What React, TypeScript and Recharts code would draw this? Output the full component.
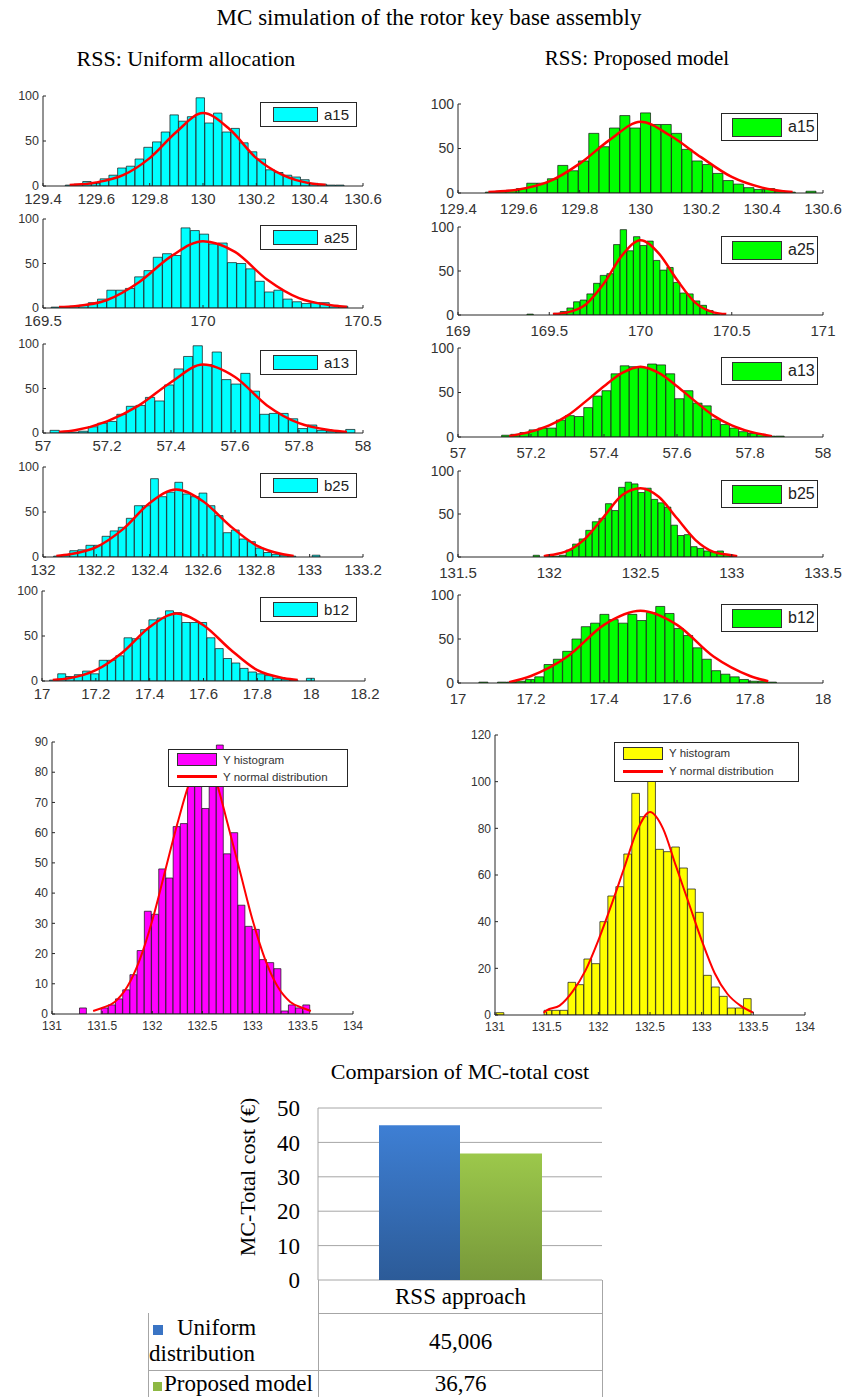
import React from 'react';
import { ComposedChart, BarChart, Bar, Line, XAxis, YAxis, CartesianGrid } from 'recharts';

const SERIF = '"Liberation Serif", "Times New Roman", serif';
const SANS = '"Liberation Sans", Arial, sans-serif';

type Curve = [number, number][];

// ---- tick labels ----
const a15Ticks = [129.4, 129.6, 129.8, 130, 130.2, 130.4, 130.6];
const a25uTicks = [169.5, 170, 170.5];
const a25pTicks = [169, 169.5, 170, 170.5, 171];
const a13Ticks = [57, 57.2, 57.4, 57.6, 57.8, 58];
const b25uTicks = [132, 132.2, 132.4, 132.6, 132.8, 133, 133.2];
const b25pTicks = [131.5, 132, 132.5, 133, 133.5];
const b12uTicks = [17, 17.2, 17.4, 17.6, 17.8, 18, 18.2];
const b12pTicks = [17, 17.2, 17.4, 17.6, 17.8, 18];
const yTicks = [131, 131.5, 132, 132.5, 133, 133.5, 134];
const smallCountTicks = [0, 50, 100];

// ---- RSS: uniform allocation (counts per bin, fitted normal curve) ----
const a15uCounts = [1, 2, 5, 3, 8, 12, 20, 22, 30, 43, 49, 60, 79, 72, 77, 98, 70, 81, 60, 64, 48, 38, 30, 18, 15, 12, 10, 7, 3, 2, 1, 1];
const a15uFit: Curve = [[129.5, 1], [129.6, 4], [129.7, 12], [129.8, 31], [129.9, 60], [130.0, 81], [130.1, 63], [130.2, 31], [130.3, 12], [130.4, 3], [130.46, 1]];
const a25uCounts = [1, 1, 2, 3, 6, 10, 20, 20, 22, 35, 42, 57, 61, 59, 90, 87, 83, 72, 73, 51, 50, 44, 30, 18, 20, 10, 7, 5, 6, 6, 3, 2];
const a25uFit: Curve = [[169.55, 1], [169.6, 2], [169.7, 9], [169.8, 29], [169.9, 58], [170.0, 75], [170.1, 63], [170.2, 32], [170.3, 11], [170.4, 3], [170.45, 1]];
const a13uCounts = [3, 1, 1, 2, 7, 11, 13, 21, 30, 31, 40, 36, 54, 72, 86, 98, 77, 91, 60, 55, 67, 47, 21, 22, 22, 16, 5, 9, 3, 2, 1, 4];
const a13uFit: Curve = [[57.05, 1], [57.1, 3], [57.2, 13], [57.3, 31], [57.4, 57], [57.5, 77], [57.6, 63], [57.7, 31], [57.8, 11], [57.9, 3], [57.95, 1]];
const b25uCounts = [1, 2, 7, 8, 13, 13, 23, 29, 33, 43, 57, 57, 87, 67, 72, 83, 70, 67, 71, 57, 46, 27, 30, 20, 17, 10, 5, 3, 2, 1, 0, 0, 2];
const b25uFit: Curve = [[132.05, 1], [132.1, 3], [132.2, 11], [132.3, 31], [132.4, 60], [132.5, 75], [132.6, 62], [132.7, 35], [132.8, 13], [132.9, 3], [132.94, 1]];
const b12uCounts = [1, 8, 5, 7, 11, 8, 23, 23, 28, 48, 47, 57, 68, 70, 78, 76, 65, 65, 65, 48, 36, 25, 20, 14, 10, 8, 6, 3, 2, 1, 0, 3];
const b12uFit: Curve = [[17.04, 1], [17.1, 3], [17.2, 12], [17.3, 32], [17.4, 60], [17.5, 75], [17.6, 62], [17.7, 35], [17.8, 12], [17.9, 3], [17.95, 1]];

// ---- RSS: proposed model ----
const a15pCounts = [1, 2, 3, 5, 11, 11, 16, 31, 25, 36, 67, 52, 73, 87, 73, 90, 77, 77, 67, 49, 36, 32, 22, 14, 10, 6, 4, 5, 2, 1, 0, 2];
const a15pFit: Curve = [[129.5, 1], [129.6, 4], [129.7, 13], [129.8, 33], [129.9, 60], [130.0, 80], [130.1, 64], [130.2, 40], [130.3, 18], [130.4, 6], [130.5, 1]];
const a25pCounts = [1, 0, 0, 0, 2, 4, 8, 15, 17, 24, 36, 45, 47, 80, 97, 73, 89, 79, 84, 62, 51, 54, 37, 25, 24, 16, 11, 5, 1];
const a25pFit: Curve = [[169.52, 1], [169.6, 3], [169.7, 12], [169.8, 36], [169.9, 68], [170.0, 85], [170.1, 70], [170.2, 40], [170.3, 14], [170.4, 3], [170.47, 1]];
const a13pCounts = [2, 3, 5, 8, 10, 10, 19, 24, 23, 33, 46, 52, 71, 80, 79, 78, 82, 81, 71, 43, 52, 38, 35, 20, 14, 10, 6, 4, 3, 1, 1];
const a13pFit: Curve = [[57.14, 1], [57.2, 6], [57.25, 13], [57.3, 24], [57.35, 40], [57.4, 57], [57.45, 72], [57.5, 79], [57.55, 72], [57.6, 57], [57.65, 40], [57.7, 24], [57.75, 13], [57.8, 6], [57.86, 1]];
const b25pCounts = [2, 0, 1, 1, 2, 8, 15, 21, 31, 41, 45, 62, 54, 81, 87, 85, 75, 80, 67, 63, 58, 37, 25, 26, 12, 10, 7, 6, 7, 3, 1];
const b25pFit: Curve = [[131.97, 1], [132.0, 2], [132.1, 7], [132.2, 22], [132.3, 47], [132.4, 72], [132.5, 80], [132.6, 70], [132.7, 45], [132.8, 20], [132.9, 6], [133.0, 2], [133.03, 1]];
const b12pCounts = [1, 0, 1, 1, 2, 4, 7, 21, 27, 36, 50, 64, 68, 78, 72, 68, 78, 71, 80, 87, 79, 62, 54, 40, 27, 14, 10, 7, 4, 2, 2, 1];
const b12pFit: Curve = [[17.14, 1], [17.2, 8], [17.3, 30], [17.4, 66], [17.5, 82], [17.6, 66], [17.7, 30], [17.8, 8], [17.85, 2]];

// ---- Y histograms ----
const yUniformCounts = [2, 0, 0, 2, 3, 5, 8, 13, 21, 34, 33, 48, 45, 62, 63, 78, 80, 68, 76, 89, 53, 60, 36, 29, 28, 18, 17, 15, 1, 3, 2, 3];
const yUniformFit: Curve = [[131.41, 1], [131.5, 2], [131.625, 4], [131.75, 9], [131.875, 18], [132.0, 31], [132.125, 47], [132.25, 63], [132.375, 77], [132.5, 84], [132.625, 78], [132.75, 63], [132.875, 47], [133.0, 31], [133.125, 18], [133.25, 9], [133.375, 4], [133.5, 2], [133.58, 1]];
const yProposedCounts = [1, 0, 0, 0, 0, 0, 2, 2, 2, 14, 13, 24, 22, 40, 51, 55, 69, 95, 85, 101, 71, 70, 72, 63, 54, 44, 17, 12, 8, 3, 3, 7];
const yProposedFit: Curve = [[131.47, 1], [131.5, 2], [131.625, 4], [131.75, 10], [131.875, 19], [132.0, 32], [132.125, 47], [132.25, 63], [132.375, 79], [132.5, 87], [132.625, 80], [132.75, 64], [132.875, 48], [133.0, 32], [133.125, 18], [133.25, 9], [133.375, 4], [133.5, 1]];

// ---- total cost comparison ----
const costCategories = ['RSS approach'];
const costUniform = [45.006];
const costProposed = [36.76];
const costTicks = [0, 10, 20, 30, 40, 50];

const AXIS = '#262626';

interface PanelProps {
  left: number; top: number; w: number; h: number;
  xDomain: [number, number]; xTicks: number[];
  yMax: number; yTicks: number[];
  start: number; step: number; counts: number[];
  fit: Curve; fill: string;
  xFont: number; yFont: number; lineW: number; xGap?: number;
}

function Panel(p: PanelProps) {
  const axisW = 44, padT = 10, padR = 30, axisH = 28;
  const cw = axisW + p.w + padR;
  const ch = padT + p.h + axisH;
  const rows = p.counts.map((n, i) => ({ x: p.start + i * p.step, n }));
  const fit = p.fit.map(([x, y]) => ({ x, y }));
  const barPx = Math.max(1, (p.step / (p.xDomain[1] - p.xDomain[0])) * p.w - 0.3);
  return (
    <div style={{ position: 'absolute', left: p.left - axisW, top: p.top - padT, width: cw, height: ch }}>
      <ComposedChart width={cw} height={ch} data={rows} margin={{ top: padT, right: padR, bottom: 0, left: 0 }}>
        <XAxis xAxisId="bins" dataKey="x" type="number" domain={p.xDomain} allowDataOverflow ticks={p.xTicks} interval={0}
          height={axisH} stroke={AXIS} tickSize={-3} tickMargin={p.xGap ?? 10} tick={{ fill: '#333', fontSize: p.xFont, fontFamily: SANS }} />
        <XAxis xAxisId="fit" dataKey="x" type="number" domain={p.xDomain} allowDataOverflow hide />
        <XAxis xAxisId="top" orientation="top" type="number" domain={p.xDomain} allowDataOverflow ticks={p.xTicks}
          height={0} tick={false} stroke={AXIS} tickSize={-3} />
        <YAxis yAxisId="l" type="number" domain={[0, p.yMax]} allowDataOverflow ticks={p.yTicks} interval={0} width={axisW}
          stroke={AXIS} tickSize={-3} tickMargin={7} tick={{ fill: '#333', fontSize: p.yFont, fontFamily: SANS }} />
        <YAxis yAxisId="r" orientation="right" type="number" domain={[0, p.yMax]} allowDataOverflow ticks={p.yTicks}
          width={0} tick={false} stroke={AXIS} tickSize={-3} />
        <Bar xAxisId="bins" yAxisId="l" dataKey="n" fill={p.fill} stroke="#111" strokeWidth={0.7} barSize={barPx} isAnimationActive={false} />
        <Line xAxisId="fit" yAxisId="l" data={fit} dataKey="y" type="monotone" stroke="#ff0000" strokeWidth={p.lineW}
          dot={false} activeDot={false} isAnimationActive={false} />
      </ComposedChart>
    </div>
  );
}

function SmallKey({ x, y, w, h, name, fill, patchW, patchH, inset, font }: {
  x: number; y: number; w: number; h: number; name: string; fill: string; patchW: number; patchH: number; inset: number; font: number;
}) {
  return (
    <div style={{ position: 'absolute', left: x, top: y, width: w, height: h, boxSizing: 'border-box', border: `1px solid ${AXIS}`,
      background: '#fff', display: 'flex', alignItems: 'center', fontFamily: SANS, fontSize: font, color: '#222' }}>
      <span style={{ display: 'inline-block', width: patchW, height: patchH, background: fill, border: '1px solid #333',
        boxSizing: 'border-box', marginLeft: inset, marginRight: 6 }} />
      {name}
    </div>
  );
}

function YKey({ x, y, w, h, fill }: { x: number; y: number; w: number; h: number; fill: string }) {
  const row: React.CSSProperties = { display: 'flex', alignItems: 'center', height: (h - 4) / 2 };
  return (
    <div style={{ position: 'absolute', left: x, top: y, width: w, height: h, boxSizing: 'border-box', border: `1px solid ${AXIS}`,
      background: '#fff', fontFamily: SANS, fontSize: 11.5, color: '#333', paddingTop: 1 }}>
      <div style={row}>
        <span style={{ display: 'inline-block', width: 40, height: 13, background: fill, border: '1px solid #333', boxSizing: 'border-box', marginLeft: 8, marginRight: 6 }} />
        Y histogram
      </div>
      <div style={row}>
        <span style={{ display: 'inline-block', width: 40, height: 3, background: '#ff0000', marginLeft: 8, marginRight: 6 }} />
        Y normal distribution
      </div>
    </div>
  );
}

const L = { left: 43, w: 320 };
const R = { left: 458, w: 365, xGap: 13 };

export default function App() {
  const costRows = costCategories.map((name, i) => ({ name, uniform: costUniform[i], proposed: costProposed[i] }));
  const fmt = (v: number) => String(v).replace('.', ',');
  const leftKey = (top: number, name: string) => (
    <SmallKey x={L.left + L.w - 6 - 97} y={top + 6} w={97} h={25} name={name} fill="#00ffff" patchW={45} patchH={15} inset={12} font={15} />
  );
  const rightKey = (top: number, name: string) => (
    <SmallKey x={R.left + R.w - 5 - 97} y={top + 9} w={97} h={28} name={name} fill="#00ff00" patchW={50} patchH={19} inset={10} font={16} />
  );
  const cell: React.CSSProperties = { position: 'absolute', boxSizing: 'border-box', borderColor: '#a6a6a6', borderStyle: 'solid', borderWidth: 0 };

  return (
    <div style={{ position: 'absolute', left: 0, top: 0, width: 858, height: 1397, overflow: 'hidden', background: '#fff', fontFamily: SERIF }}>
      <div style={{ position: 'absolute', left: 0, top: 5, width: 858, textAlign: 'center', fontSize: 23 }}>MC simulation of the rotor key base assembly</div>
      <div style={{ position: 'absolute', left: 36, top: 46, width: 300, textAlign: 'center', fontSize: 22 }}>RSS: Uniform allocation</div>
      <div style={{ position: 'absolute', left: 487, top: 46, width: 300, textAlign: 'center', fontSize: 21 }}>RSS: Proposed model</div>

      {/* uniform allocation column */}
      <Panel {...L} top={96} h={90} xDomain={[129.4, 130.6]} xTicks={a15Ticks} yMax={100} yTicks={smallCountTicks}
        start={129.5} step={0.0327} counts={a15uCounts} fit={a15uFit} fill="#00ffff" xFont={15} yFont={12.5} lineW={2.5} />
      <Panel {...L} top={219} h={89} xDomain={[169.5, 170.5]} xTicks={a25uTicks} yMax={100} yTicks={smallCountTicks}
        start={169.54} step={0.029} counts={a25uCounts} fit={a25uFit} fill="#00ffff" xFont={15} yFont={12.5} lineW={2.5} />
      <Panel {...L} top={344} h={89} xDomain={[57, 58]} xTicks={a13Ticks} yMax={100} yTicks={smallCountTicks}
        start={57.037} step={0.0298} counts={a13uCounts} fit={a13uFit} fill="#00ffff" xFont={15} yFont={12.5} lineW={2.5} />
      <Panel {...L} top={467} h={90} xDomain={[132, 133.2]} xTicks={b25uTicks} yMax={100} yTicks={smallCountTicks}
        start={132.055} step={0.0303} counts={b25uCounts} fit={b25uFit} fill="#00ffff" xFont={15} yFont={12.5} lineW={2.5} />
      <Panel left={42} w={323} top={591} h={90} xDomain={[17, 18.2]} xTicks={b12uTicks} yMax={100} yTicks={smallCountTicks}
        start={17.043} step={0.0308} counts={b12uCounts} fit={b12uFit} fill="#00ffff" xFont={15} yFont={12.5} lineW={2.5} />

      {/* proposed model column */}
      <Panel {...R} top={104} h={89} xDomain={[129.4, 130.6]} xTicks={a15Ticks} yMax={100} yTicks={smallCountTicks}
        start={129.507} step={0.034} counts={a15pCounts} fit={a15pFit} fill="#00ff00" xFont={15} yFont={14} lineW={2.5} />
      <Panel {...R} top={227} h={88} xDomain={[169, 171]} xTicks={a25pTicks} yMax={100} yTicks={smallCountTicks}
        start={169.396} step={0.0365} counts={a25pCounts} fit={a25pFit} fill="#00ff00" xFont={15} yFont={14} lineW={2.5} />
      <Panel {...R} top={348} h={89} xDomain={[57, 58]} xTicks={a13Ticks} yMax={100} yTicks={smallCountTicks}
        start={57.132} step={0.025} counts={a13pCounts} fit={a13pFit} fill="#00ff00" xFont={15} yFont={14} lineW={2.5} />
      <Panel {...R} top={471} h={86} xDomain={[131.5, 133.5]} xTicks={b25pTicks} yMax={100} yTicks={smallCountTicks}
        start={131.93} step={0.036} counts={b25pCounts} fit={b25pFit} fill="#00ff00" xFont={15} yFont={14} lineW={2.5} />
      <Panel {...R} top={595} h={88} xDomain={[17, 18]} xTicks={b12pTicks} yMax={100} yTicks={smallCountTicks}
        start={17.07} step={0.0255} counts={b12pCounts} fit={b12pFit} fill="#00ff00" xFont={15} yFont={14} lineW={2.5} />

      {leftKey(96, 'a15')}
      {leftKey(219, 'a25')}
      {leftKey(344, 'a13')}
      {leftKey(467, 'b25')}
      {leftKey(591, 'b12')}
      {rightKey(104, 'a15')}
      {rightKey(227, 'a25')}
      {rightKey(348, 'a13')}
      {rightKey(471, 'b25')}
      {rightKey(595, 'b12')}

      {/* Y histograms */}
      <Panel left={52} w={301} top={742} h={272} xDomain={[131, 134]} xTicks={yTicks} yMax={90} yTicks={[0, 10, 20, 30, 40, 50, 60, 70, 80, 90]}
        start={131.31} step={0.0718} counts={yUniformCounts} fit={yUniformFit} fill="#ff00ff" xFont={12} yFont={12} lineW={2} />
      <Panel left={495} w={310} top={735} h={280} xDomain={[131, 134]} xTicks={yTicks} yMax={120} yTicks={[0, 20, 40, 60, 80, 100, 120]}
        start={131.05} step={0.0772} counts={yProposedCounts} fit={yProposedFit} fill="#ffff00" xFont={12} yFont={12} lineW={2} />
      <YKey x={168} y={749} w={180} h={38} fill="#ff00ff" />
      <YKey x={614} y={742} w={185} h={40} fill="#ffff00" />

      {/* total cost comparison */}
      <div style={{ position: 'absolute', left: 260, top: 1059, width: 400, textAlign: 'center', fontSize: 22 }}>Comparsion of MC-total cost</div>
      <div style={{ position: 'absolute', left: 248 - 100, top: 1177 - 14, width: 200, height: 28, textAlign: 'center', fontSize: 22,
        transform: 'rotate(-90deg)', lineHeight: '28px' }}>MC-Total cost (€)</div>
      <div style={{ position: 'absolute', left: 238, top: 1088 }}>
        <BarChart width={374} height={207} data={costRows} margin={{ top: 20, right: 10, left: 0, bottom: 15 }} barGap={0}>
          <defs>
            <linearGradient id="gBlue" x1="0" y1="0" x2="0" y2="1">
              <stop offset="0" stopColor="#3e7fd4" />
              <stop offset="1" stopColor="#2c5b98" />
            </linearGradient>
            <linearGradient id="gGreen" x1="0" y1="0" x2="0" y2="1">
              <stop offset="0" stopColor="#9cc84b" />
              <stop offset="1" stopColor="#77983a" />
            </linearGradient>
          </defs>
          <CartesianGrid vertical={false} stroke="#a6a6a6" />
          <XAxis dataKey="name" hide />
          <YAxis domain={[0, 50]} ticks={costTicks} interval={0} width={80} axisLine={{ stroke: '#a6a6a6' }} tickLine={false}
            tickMargin={12} tick={{ fill: '#000', fontSize: 23, fontFamily: SERIF }} />
          <Bar dataKey="uniform" fill="url(#gBlue)" barSize={81} isAnimationActive={false} />
          <Bar dataKey="proposed" fill="url(#gGreen)" barSize={82} isAnimationActive={false} />
        </BarChart>
      </div>

      {/* data table below the bar chart */}
      <div style={{ ...cell, left: 318, top: 1280, width: 285, height: 34, borderLeftWidth: 1, borderRightWidth: 1, borderBottomWidth: 1,
        textAlign: 'center', fontSize: 23, lineHeight: '33px' }}>{costCategories[0]}</div>
      <div style={{ ...cell, left: 148, top: 1313, width: 171, height: 58, borderLeftWidth: 1, borderBottomWidth: 1, fontSize: 23, lineHeight: '26px', paddingTop: 2 }}>
        <span style={{ display: 'inline-block', width: 10, height: 10, background: '#3a74c4', marginLeft: 4, marginRight: 14 }} />Uniform<br />distribution
      </div>
      <div style={{ ...cell, left: 318, top: 1313, width: 285, height: 58, borderLeftWidth: 1, borderRightWidth: 1, borderBottomWidth: 1,
        textAlign: 'center', fontSize: 23, lineHeight: '57px' }}>{fmt(costUniform[0])}</div>
      <div style={{ ...cell, left: 148, top: 1370, width: 171, height: 34, borderLeftWidth: 1, borderBottomWidth: 1, fontSize: 23, lineHeight: '28px' }}>
        <span style={{ display: 'inline-block', width: 9, height: 9, background: '#8db843', marginLeft: 4, marginRight: 2 }} />Proposed model
      </div>
      <div style={{ ...cell, left: 318, top: 1370, width: 285, height: 34, borderLeftWidth: 1, borderRightWidth: 1, borderBottomWidth: 1,
        textAlign: 'center', fontSize: 23, lineHeight: '28px' }}>{fmt(costProposed[0])}</div>
    </div>
  );
}
